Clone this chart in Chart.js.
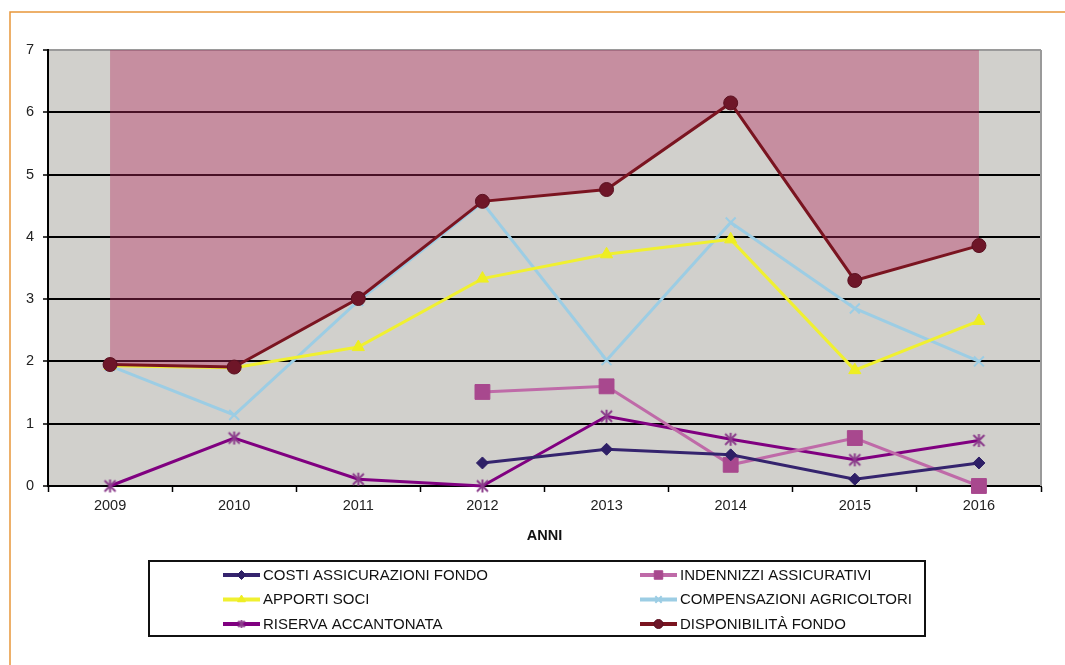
<!DOCTYPE html>
<html>
<head>
<meta charset="utf-8">
<script src="https://cdn.jsdelivr.net/npm/chart.js@4.4.1/dist/chart.umd.min.js"></script>
<style>
  html, body { margin: 0; padding: 0; background: #ffffff; }
  canvas { display: block; }
</style>
</head>
<body>
<canvas id="grafico" width="1065" height="665"></canvas>
<script>
// Anni (asse X) e valori delle serie
const anni = ['2009', '2010', '2011', '2012', '2013', '2014', '2015', '2016'];
const yTickLabels = ['0', '1', '2', '3', '4', '5', '6', '7'];

const costiAssicurazioniFondo = [null, null, null, 0.37, 0.59, 0.50, 0.11, 0.37];
const indennizziAssicurativi  = [null, null, null, 1.51, 1.60, 0.34, 0.77, 0.00];
const apportiSoci             = [1.93, 1.90, 2.23, 3.33, 3.72, 3.96, 1.86, 2.65];
const compensazioniAgricoltori = [1.93, 1.14, 2.97, 4.55, 2.02, 4.23, 2.85, 2.00];
const riservaAccantonata      = [0.00, 0.77, 0.11, 0.00, 1.12, 0.75, 0.42, 0.73];
const disponibilitaFondo      = [1.95, 1.91, 3.01, 4.57, 4.76, 6.15, 3.30, 3.86];

const nomiSerie = [
  'COSTI ASSICURAZIONI FONDO',
  'INDENNIZZI ASSICURATIVI',
  'APPORTI SOCI',
  'COMPENSAZIONI AGRICOLTORI',
  'RISERVA ACCANTONATA',
  'DISPONIBILITÀ FONDO'
];

const FONT = '"Liberation Sans", Arial, sans-serif';

// Simbolo "asterisco" (X con barra verticale) per la riserva
function asterisco(size, color, lw) {
  const c = document.createElement('canvas');
  c.width = size; c.height = size;
  const g = c.getContext('2d');
  const m = lw, s = size;
  g.strokeStyle = color;
  g.lineWidth = lw;
  g.lineCap = 'butt';
  g.beginPath();
  g.moveTo(m, m); g.lineTo(s - m, s - m);
  g.moveTo(s - m, m); g.lineTo(m, s - m);
  g.moveTo(s / 2, m * 0.5); g.lineTo(s / 2, s - m * 0.5);
  g.stroke();
  return c;
}
const simboloRiserva = asterisco(15, '#8b3d8b', 2);
const simboloRiservaPiccolo = asterisco(10, '#8b3d8b', 1.8);

// Sfondo della pagina, area del grafico e cornice arancione
const sfondo = {
  id: 'sfondo',
  beforeDraw(chart) {
    const { ctx, chartArea: a } = chart;
    ctx.save();
    ctx.fillStyle = '#ffffff';
    ctx.fillRect(0, 0, chart.width, chart.height);
    ctx.fillStyle = '#d1d0cc';
    ctx.fillRect(a.left, a.top, a.right - a.left, a.bottom - a.top);
    ctx.strokeStyle = '#e8963a';
    ctx.lineWidth = 1.5;
    ctx.beginPath();
    ctx.moveTo(10, chart.height);
    ctx.lineTo(10, 12);
    ctx.lineTo(chart.width, 12);
    ctx.stroke();
    ctx.restore();
  },
  beforeDatasetsDraw(chart) {
    const { ctx, chartArea: a } = chart;
    ctx.save();
    ctx.strokeStyle = '#9a9a9a';
    ctx.lineWidth = 2;
    ctx.beginPath();
    ctx.moveTo(a.right, a.top);
    ctx.lineTo(a.right, a.bottom);
    ctx.stroke();
    ctx.restore();
  }
};

// Legenda a due colonne in un riquadro
function disegnaSimbolo(ctx, ds, x, y) {
  let style = ds.pointStyle;
  if (style === simboloRiserva) style = simboloRiservaPiccolo;
  const opts = {
    pointStyle: style,
    rotation: 0,
    radius: ds.pointStyle === 'rect' ? 6 : 4.5,
    borderWidth: ds.pointBorderWidth
  };
  ctx.fillStyle = ds.pointBackgroundColor;
  ctx.strokeStyle = ds.pointBorderColor;
  ctx.lineWidth = ds.pointBorderWidth;
  Chart.helpers.drawPoint(ctx, opts, x, y);
}

const legendaRiquadro = {
  id: 'legendaRiquadro',
  afterDraw(chart) {
    const { ctx } = chart;
    const box = { x: 149, y: 561, w: 776, h: 75 };
    ctx.save();
    ctx.strokeStyle = '#111111';
    ctx.lineWidth = 2;
    ctx.strokeRect(box.x, box.y, box.w, box.h);
    const colX = [223, 640];
    const rowY = [575, 599.5, 624];
    chart.data.datasets.forEach((ds, i) => {
      const x = colX[i % 2];
      const y = rowY[Math.floor(i / 2)];
      ctx.strokeStyle = ds.borderColor;
      ctx.lineWidth = 4;
      ctx.beginPath();
      ctx.moveTo(x, y);
      ctx.lineTo(x + 37, y);
      ctx.stroke();
      disegnaSimbolo(ctx, ds, x + 18.5, y);
      ctx.fillStyle = '#111111';
      ctx.font = '15px ' + FONT;
      ctx.textBaseline = 'middle';
      ctx.textAlign = 'left';
      ctx.fillText(ds.label, x + 40, y + 0.5);
    });
    ctx.restore();
  }
};

const datasets = [
  {
    label: nomiSerie[0], data: costiAssicurazioniFondo,
    borderColor: '#35246e', borderWidth: 3,
    pointStyle: 'rectRot', pointRadius: 6,
    pointBackgroundColor: '#2e1f66', pointBorderColor: '#2e1f66', pointBorderWidth: 1
  },
  {
    label: nomiSerie[1], data: indennizziAssicurativi,
    borderColor: '#bf6aa8', borderWidth: 3,
    pointStyle: 'rect', pointRadius: 10.5,
    pointBackgroundColor: '#a8488e', pointBorderColor: '#a8488e', pointBorderWidth: 1
  },
  {
    label: nomiSerie[2], data: apportiSoci,
    borderColor: '#f0f030', borderWidth: 3,
    pointStyle: 'triangle', pointRadius: 7,
    pointBackgroundColor: '#eeee22', pointBorderColor: '#eeee22', pointBorderWidth: 1
  },
  {
    label: nomiSerie[3], data: compensazioniAgricoltori,
    borderColor: '#9ccde4', borderWidth: 3,
    pointStyle: 'crossRot', pointRadius: 7,
    pointBackgroundColor: '#9ccde4', pointBorderColor: '#9ccde4', pointBorderWidth: 2
  },
  {
    label: nomiSerie[4], data: riservaAccantonata,
    borderColor: '#800080', borderWidth: 3,
    pointStyle: simboloRiserva, pointRadius: 7,
    pointBackgroundColor: '#8b3d8b', pointBorderColor: '#8b3d8b', pointBorderWidth: 2
  },
  {
    label: nomiSerie[5], data: disponibilitaFondo,
    borderColor: '#7a1420', borderWidth: 3,
    pointStyle: 'circle', pointRadius: 7,
    pointBackgroundColor: '#6e1628', pointBorderColor: '#5a1020', pointBorderWidth: 1,
    fill: 'end', backgroundColor: 'rgba(182, 43, 94, 0.4)',
    order: -1
  }
];
datasets.forEach((d) => { d.clip = false; });

new Chart(document.getElementById('grafico'), {
  type: 'line',
  data: { labels: anni, datasets },
  options: {
    responsive: false,
    animation: false,
    events: [],
    spanGaps: false,
    elements: { line: { tension: 0 } },
    layout: { padding: { left: 0, top: 50, right: 24, bottom: 0 } },
    plugins: {
      legend: { display: false },
      tooltip: { enabled: false },
      filler: { drawTime: 'beforeDatasetsDraw' }
    },
    scales: {
      x: {
        offset: true,
        grid: { offset: true, drawOnChartArea: false, tickLength: 6, tickColor: '#000', tickWidth: 1.5 },
        border: { color: '#000', width: 2 },
        ticks: { color: '#222', font: { family: FONT, size: 14.5 }, padding: 5, maxRotation: 0 },
        title: {
          display: true, text: 'ANNI', color: '#111',
          font: { family: FONT, size: 14.5, weight: 'bold' },
          padding: { top: 0, bottom: 120 }
        },
        afterFit(scale) { scale.height = 179; }
      },
      y: {
        min: 0, max: 7,
        ticks: {
          stepSize: 1, padding: 9, color: '#222',
          font: { family: FONT, size: 14.5 },
          callback: (v) => yTickLabels[v]
        },
        grid: {
          color: (c) => (c.tick && c.tick.value === 7 ? '#9a9a9a' : '#000'),
          lineWidth: 2, tickLength: 5, tickColor: '#000', tickWidth: 1.5
        },
        border: { color: '#000', width: 2 },
        afterFit(scale) { scale.width = 48; }
      }
    }
  },
  plugins: [sfondo, legendaRiquadro]
});
</script>
</body>
</html>
